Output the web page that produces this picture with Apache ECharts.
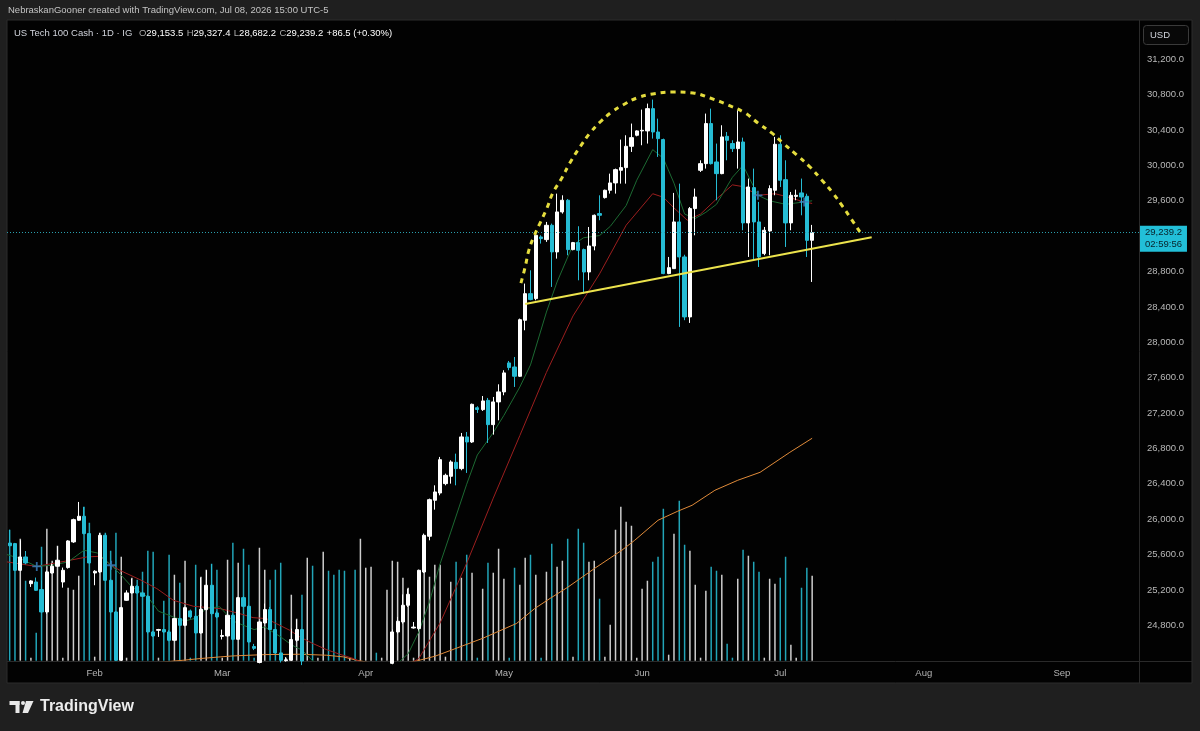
<!DOCTYPE html>
<html>
<head>
<meta charset="utf-8">
<script src="https://cdn.jsdelivr.net/npm/echarts@6/dist/echarts.min.js"></script>
<style>
html,body{margin:0;padding:0;background:#1f1f1f;}
#chart{width:1200px;height:731px;}
</style>
</head>
<body>
<div id="chart"></div>
<script>
// daily bars, IG CFD: every day except Saturday
var firstBar = Date.UTC(2026, 0, 13);
var barCount = 213;
var monthNames = ['Jan','Feb','Mar','Apr','May','Jun','Jul','Aug','Sep','Oct','Nov','Dec'];

var openP = [
  25730,25724,25422,25573,25271,25290,25204,24951,25392,25468,
  25290,25453,25743,25988,26033,25837,25392,25404,25818,25309,
  24951,24405,25083,25166,25241,25166,25128,24725,24744,24752,
  24725,24631,24876,24800,24963,24902,24714,24978,25253,24940,
  24675,24680,24914,24642,25113,25015,24560,24380,24827,24978,
  24752,24488,24400,24405,24631,24752,24250,24380,24300,24310,
  24350,24200,24150,24050,23950,23980,23900,24100,24250,24350,
  24300,24310,24370,24725,24838,25027,24770,24763,25403,25807,
  26214,26296,26402,26485,26643,26572,26930,26873,27260,27239,
  27344,27069,27326,27439,27767,27721,27616,28249,28550,28494,
  29191,29161,29323,29022,29474,29606,29048,29127,29048,28795,
  29089,29455,29636,29719,29802,29945,29975,30216,30341,30390,
  30390,30642,30378,30292,28777,28833,29361,28965,28287,29512,
  29945,30020,30473,30039,29907,30329,30247,30190,30265,29350,
  29749,29361,29003,29259,29719,30239,29839,29350,29650,29689,
  29651,29153.5
];
var highP = [
  25880,25732,25762,25640,25310,25340,25309,25420,25498,25694,
  25453,25762,26006,26195,26139,25845,25423,25845,25837,25320,
  24960,25010,25196,25328,25253,25180,25140,24735,24760,24760,
  24744,24887,24887,25010,24978,25008,25340,25422,25490,24960,
  24752,24970,24925,25121,25128,25027,24590,24850,25046,25008,
  24763,24490,24440,24763,24865,24760,24385,24388,24320,24385,
  24370,24250,24200,24100,24000,24050,24150,24300,24380,24380,
  24330,24385,24752,24895,25150,25215,24838,25430,25837,26233,
  26383,26704,26515,26666,26741,26975,26986,27307,27277,27393,
  27371,27382,27525,27684,27789,27834,28268,28664,28814,29248,
  29210,29361,29342,29681,29662,29620,29135,29312,29060,29304,
  29445,29662,29726,29907,29964,30292,30341,30473,30397,30631,
  30699,30744,30529,30303,28965,29689,29794,28990,29530,29738,
  30058,30586,30642,30247,30454,30378,30284,30623,30314,29851,
  29964,29587,29304,29775,30322,30341,30058,29700,29726,29851,
  29680,29327.4
];
var lowP = [
  25690,25415,25415,25490,25234,25189,24940,24930,25385,25460,
  25226,25441,25732,25980,25829,25498,25253,25392,25302,24940,
  24400,24397,25076,25159,25159,25120,24706,24670,24669,24715,
  24620,24620,24790,24790,24876,24706,24706,24970,24914,24880,
  24640,24669,24631,24639,25000,24601,24520,24370,24819,24744,
  24480,24380,24390,24397,24612,24350,24200,24250,24280,24260,
  24150,24100,24000,23900,23930,23850,23880,24050,24200,24280,
  24290,24250,24360,24706,24819,25008,24763,24744,25392,25761,
  26108,26270,26383,26402,26383,26553,26523,26862,27201,27224,
  26862,26956,27118,27401,27684,27495,27608,28136,28475,28475,
  29116,29135,28626,28946,29455,28984,29040,28701,28550,28701,
  29040,29380,29625,29681,29681,29794,29794,30152,30329,30228,
  30247,30303,30096,28770,28770,28833,28174,28250,28219,29210,
  29926,29964,30010,29606,29900,30058,30152,29964,29267,28965,
  28927,28852,28984,28984,29662,29756,29078,29267,29606,29436,
  28965,28682.2
];
var closeP = [
  25700,25422,25573,25505,25302,25196,24951,25404,25468,25536,
  25422,25754,25995,26033,25837,25505,25411,25818,25309,24951,
  24405,25000,25166,25241,25166,25128,24725,24680,24752,24725,
  24631,24876,24800,25000,24895,24714,24981,25253,24932,24895,
  24685,24914,24642,25113,25015,24612,24540,24838,24978,24752,
  24488,24405,24410,24639,24752,24397,24380,24300,24310,24350,
  24200,24150,24050,23950,23980,23900,24100,24250,24350,24300,
  24310,24370,24725,24846,25027,25151,24780,25422,25818,26221,
  26308,26673,26496,26647,26572,26930,26873,27299,27240,27337,
  27069,27326,27439,27654,27714,27616,28256,28550,28483,29210,
  29172,29323,29022,29474,29606,29048,29127,29040,28795,29089,
  29436,29436,29719,29802,29952,29975,30216,30314,30390,30397,
  30642,30378,30303,28777,28844,29361,28965,28287,29512,29643,
  30020,30473,30020,29907,30322,30284,30190,30265,29350,29756,
  29361,28965,29267,29738,30239,29832,29350,29662,29662,29643,
  29152.7,29239.2
];
// volume, arbitrary units
var volume = [
  131,95,122,80,3,28,114,132,100,115,
  3,73,71,85,154,138,4,128,128,110,
  128,104,3,83,81,89,110,109,3,60,
  106,86,78,100,3,96,84,91,97,91,
  3,101,118,98,112,96,3,113,91,81,
  91,98,3,66,42,66,103,95,3,109,
  90,86,91,90,3,91,122,93,94,8,
  3,71,100,99,83,73,3,85,96,84,
  96,96,4,79,99,83,106,88,3,72,
  98,88,112,82,3,93,76,103,106,86,
  3,89,117,94,100,122,4,132,118,99,
  100,62,4,36,131,154,139,135,3,72,
  80,99,104,152,6,127,160,116,110,76,
  3,70,94,90,86,17,3,82,111,105,
  99,89,3,82,77,83,104,16,3,73,
  93,85
];

// moving averages: [bar index, price]
var fastMA = [[-0.5,25600],[2,25554],[5.1,25466],[8,25479],[11,25517],[14,25649],[16.5,25618],[19.1,25479],[21,25366],[23,25234],[26,25120],[28,24960],[31,24890],[33,24850],[35,24880],[37,24990],[39.5,25010],[42,24850],[44,24800],[46,24752],[48,24782],[51,24669],[53,24580],[55,24520],[57,24400],[59,24330],[64,24150],[70,24250],[73,24370],[75,24480],[77,24728],[79,25067],[81,25497],[83,25854],[86,26396],[88,26726],[91,26979],[93,27174],[96,27495],[98,27744],[101,28342],[103,28682],[106,29102],[108,29182],[111,29207],[113,29310],[116,29546],[118,29833],[121,30179],[123,30080],[125,29800],[127,29450],[129,29400],[131,29470],[133,29560],[136,29866],[138,30000],[140.8,29662],[143,29600],[146,29560],[149.5,29587],[151,29600]];
var slowMA = [[-0.5,25517],[5.1,25466],[10.7,25528],[14.5,25573],[17,25581],[19.1,25479],[20.8,25420],[24.5,25317],[27.7,25215],[30.8,25083],[34.6,25015],[39.6,24989],[43.3,24932],[45.8,24887],[48.3,24876],[50.2,24819],[52.7,24744],[54.6,24669],[57.1,24593],[59.6,24526],[62.1,24473],[64.7,24424],[67,24360],[70,24274],[74,24312],[77,24426],[81,24827],[86,25503],[91,26238],[96,26946],[101,27660],[106,28298],[111,28774],[116,29324],[121,29680],[123,29640],[125,29520],[127.5,29380],[130,29450],[133,29620],[136,29780],[138,29760],[140.8,29662],[144,29680],[146,29650],[149.5,29587],[151,29570]];
var longMA = [[28,24380],[32.6,24405],[36,24425],[39.6,24443],[42,24454],[48,24469],[54.6,24473],[59.6,24462],[62.8,24443],[65.3,24405],[69,24365],[73,24360],[76.3,24393],[80,24450],[83,24517],[89,24653],[95.4,24822],[98.8,24990],[101.7,25105],[105,25230],[110.1,25445],[115.2,25649],[117.6,25761],[122,25988],[125.7,26090],[128.4,26157],[132.7,26327],[137,26440],[141.2,26530],[146.8,26756],[151,26915]];
var maCrosses = [[5.1,25466],[19.1,25479],[140.8,29662],[149.5,29587]];

// drawings
var necklinePts = [[97,28433],[162.2,29187]];
var domePts = [[96.2,28670],[97.0,28851],[97.7,29043],[98.6,29190],[99.8,29348],[101.1,29518],[102.2,29688],[103.9,29858],[105.4,30027],[107.3,30208],[109.2,30367],[111.1,30491],[113.3,30604],[115.4,30683],[118.0,30762],[121.0,30808],[124.8,30830],[128.6,30819],[131.8,30762],[135.2,30683],[138.4,30592],[140.8,30479],[143.4,30367],[145.5,30253],[148.1,30118],[150.6,29982],[152.8,29835],[154.9,29688],[156.8,29530],[158.1,29417],[160.0,29247]];

var countdown = '02:59:56';

var barDates = [];
for (var t = firstBar; barDates.length < barCount; t += 86400000) {
  var dd = new Date(t);
  if (dd.getUTCDay() !== 6) barDates.push(dd.toISOString().slice(0, 10));
}

function fmt(v) {
  return v.toLocaleString('en-US', {minimumFractionDigits: 1, maximumFractionDigits: 1});
}

var upColor = '#ffffff', downColor = '#26bcd4';
var last = closeP.length - 1;
var chg = closeP[last] - closeP[last - 1];
var pct = chg / closeP[last - 1] * 100;

var candles = openP.map(function (o, i) { return [o, closeP[i], lowP[i], highP[i]]; });
var vols = volume.map(function (v, i) {
  return {value: v, itemStyle: {color: closeP[i] >= openP[i] ? '#cdcdcd' : '#22a5b8'}};
});

var font = 'Liberation Sans, Arial, sans-serif';
var chart = echarts.init(document.getElementById('chart'));
chart.setOption({
  animation: false,
  backgroundColor: '#1f1f1f',
  textStyle: {fontFamily: font},
  grid: {left: 7, right: 61, top: 23.9, bottom: 70.3, containLabel: false, outerBoundsMode: 'none'},
  xAxis: [{
    type: 'category',
    data: barDates,
    boundaryGap: true,
    axisLine: {show: false},
    axisTick: {show: false},
    splitLine: {show: false},
    axisLabel: {
      color: '#b4b4b4', fontSize: 9.5, margin: 8,
      interval: function (i, v) { return i > 0 && v.slice(5, 7) !== barDates[i - 1].slice(5, 7); },
      formatter: function (v) { return monthNames[+v.slice(5, 7) - 1]; }
    }
  }, {
    type: 'value', min: -0.5, max: barCount - 0.5, show: false
  }],
  yAxis: [{
    type: 'value',
    position: 'right',
    min: 24400, max: 31600, interval: 400,
    axisLine: {show: false},
    axisTick: {show: false},
    splitLine: {show: false},
    axisLabel: {
      color: '#b8b8b8', fontSize: 9.5, margin: 8,
      formatter: function (v) { return (v < 24800 || v > 31200 || v === 29200) ? '' : fmt(v); }
    }
  }, {
    type: 'value', min: 0, max: 637, show: false
  }],
  series: [{
    type: 'bar', name: 'Volume', xAxisIndex: 0, yAxisIndex: 1,
    data: vols, barWidth: 1.5, silent: true, z: 1
  }, {
    type: 'line', name: 'MA long', xAxisIndex: 1, yAxisIndex: 0, data: longMA,
    showSymbol: false, silent: true, lineStyle: {color: '#e08b3a', width: 1}, z: 2
  }, {
    type: 'line', name: 'MA slow', xAxisIndex: 1, yAxisIndex: 0, data: slowMA,
    showSymbol: false, silent: true, lineStyle: {color: '#9c1f1f', width: 1}, z: 2
  }, {
    type: 'line', name: 'MA fast', xAxisIndex: 1, yAxisIndex: 0, data: fastMA,
    showSymbol: false, silent: true, lineStyle: {color: '#1d6a33', width: 1}, z: 2
  }, {
    type: 'candlestick', name: 'US Tech 100', xAxisIndex: 0, yAxisIndex: 0,
    data: candles, barWidth: '70%', clip: true, z: 3,
    itemStyle: {color: upColor, color0: downColor, borderColor: upColor, borderColor0: downColor, borderWidth: 1},
    markLine: {
      silent: true, symbol: 'none', animation: false,
      lineStyle: {color: '#2a9fae', type: [1, 2], width: 1},
      label: {
        position: 'end', distance: 1, offset: [0, 6],
        formatter: function () { return fmt(closeP[last]) + '\n' + countdown; },
        backgroundColor: '#22bfd8', color: '#08222a', fontSize: 9.5, lineHeight: 12,
        padding: [1, 5, 1, 5], fontFamily: font
      },
      data: [{yAxis: closeP[last]}]
    }
  }, {
    type: 'scatter', name: 'MA cross', xAxisIndex: 1, yAxisIndex: 0, data: maCrosses,
    symbol: 'path://M4,0h2v4h4v2h-4v4h-2v-4h-4v-2h4z', symbolSize: 9, silent: true,
    itemStyle: {color: '#3b82c4'}, z: 4
  }, {
    type: 'line', name: 'neckline', xAxisIndex: 1, yAxisIndex: 0, data: necklinePts,
    showSymbol: false, silent: true, lineStyle: {color: '#ece34c', width: 2}, z: 5
  }, {
    type: 'line', name: 'dome', xAxisIndex: 1, yAxisIndex: 0, data: domePts,
    smooth: 0.4, showSymbol: false, silent: true,
    lineStyle: {color: '#e4dc3e', width: 3, type: [5, 5]}, z: 5
  }],
  graphic: [
    {type: 'rect', z: -100, shape: {x: 7, y: 20, width: 1185, height: 663}, style: {fill: '#020202', stroke: '#2c2c2c', lineWidth: 1}},
    {type: 'line', z: -90, shape: {x1: 1139.5, y1: 20, x2: 1139.5, y2: 683}, style: {stroke: '#2a2a2a', lineWidth: 1}},
    {type: 'line', z: -90, shape: {x1: 7, y1: 661.5, x2: 1192, y2: 661.5}, style: {stroke: '#2a2a2a', lineWidth: 1}},
    {type: 'rect', shape: {x: 1143.5, y: 25.5, width: 45, height: 19, r: 3}, style: {fill: '#080808', stroke: '#3a3a3a', lineWidth: 1}},
    {type: 'text', x: 1150, y: 35, style: {text: 'USD', fill: '#d1d4dc', font: '9.5px ' + font, verticalAlign: 'middle'}},
    {type: 'text', x: 8, y: 10, style: {text: 'NebraskanGooner created with TradingView.com, Jul 08, 2026 15:00 UTC-5', fill: '#c4c4c4', font: '9.5px ' + font, verticalAlign: 'middle'}},
    {type: 'text', x: 14, y: 33, style: {
      text: '{t|US Tech 100 Cash · 1D · IG}  {k|O}{v|' + fmt(openP[last]) + '} {k|H}{v|' + fmt(highP[last]) + '} {k|L}{v|' + fmt(lowP[last]) + '} {k|C}{v|' + fmt(closeP[last]) + '} {v|' + (chg >= 0 ? '+' : '') + fmt(chg) + ' (' + (pct >= 0 ? '+' : '') + pct.toFixed(2) + '%)}',
      verticalAlign: 'middle',
      rich: {
        t: {fill: '#d1d4dc', font: '9.5px ' + font},
        k: {fill: '#a8a8a8', font: '9.5px ' + font},
        v: {fill: '#ffffff', font: '9.5px ' + font}
      }
    }},
    {type: 'rect', shape: {x: 9.5, y: 701, width: 10, height: 4}, style: {fill: '#e8e8e8'}},
    {type: 'rect', shape: {x: 15.5, y: 701, width: 4, height: 12}, style: {fill: '#e8e8e8'}},
    {type: 'circle', shape: {cx: 23, cy: 703, r: 2}, style: {fill: '#e8e8e8'}},
    {type: 'polygon', shape: {points: [[26, 701], [33.5, 701], [28, 713], [22.5, 713]]}, style: {fill: '#e8e8e8'}},
    {type: 'text', x: 40, y: 707, style: {text: 'TradingView', fill: '#ececec', font: 'bold 16px ' + font, verticalAlign: 'middle'}}
  ]
});
</script>
</body>
</html>
